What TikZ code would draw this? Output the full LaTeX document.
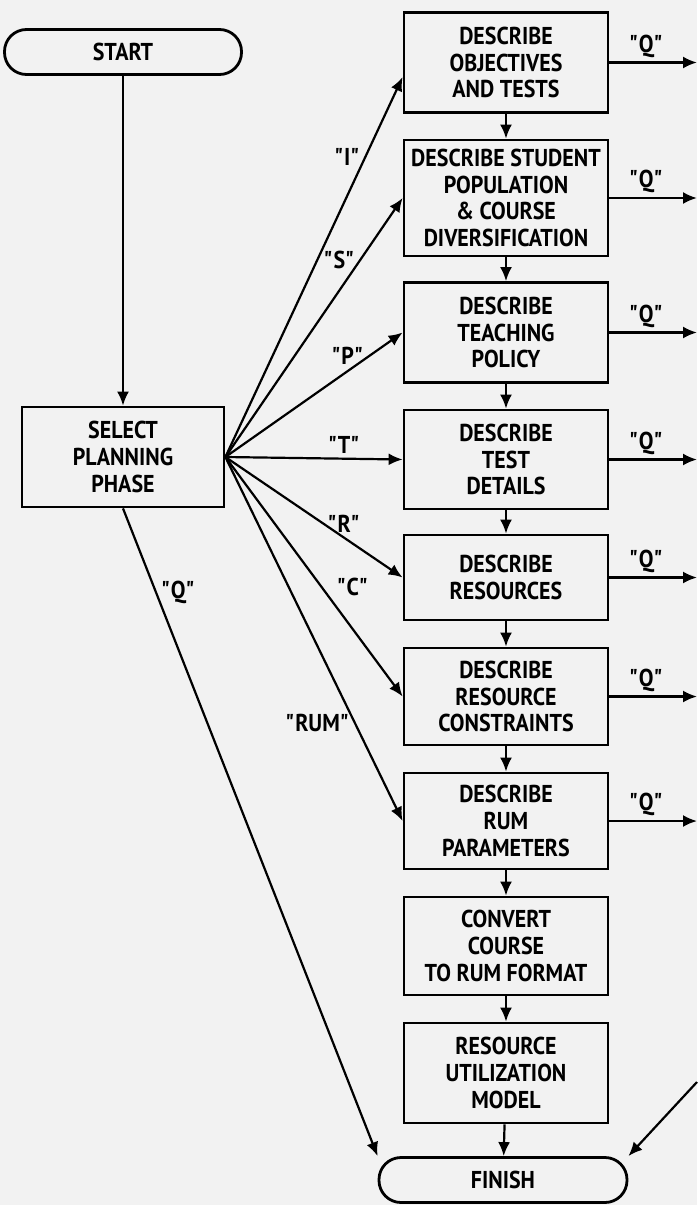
\documentclass[tikz,border=0pt]{standalone}
\usepackage{fontspec}
\setmainfont{PT Sans}[FakeStretch=0.9]
\usetikzlibrary{arrows.meta}
\newcommand\qt[1]{\textquotedbl#1\textquotedbl}

\begin{document}
\begin{tikzpicture}[x=0.5pt,y=-0.5pt,
    every node/.style={font=\fontsize{12.2}{13.3}\selectfont\bfseries},
    blk/.style={draw,line width=1.4pt,minimum width=102pt,minimum height=50pt,
      align=center,inner sep=1pt},
    term/.style={draw,line width=1.4pt,rounded corners=11pt,minimum height=22.5pt},
    flow/.style={line width=1.1pt,-{Latex[length=7pt,width=6pt]}},
    lbl/.style={inner sep=2pt}]
  \fill[black!5] (0,0) rectangle (697,1205);
  \useasboundingbox (0,0) rectangle (697,1205);

  \node[term,minimum width=118.5pt] (start) at (123,52) {START};
  \node[blk,minimum width=101pt] (select) at (123,457) {SELECT\\PLANNING\\PHASE};
  \node[term,minimum width=124pt] (finish) at (503,1180) {FINISH};

  \node[blk] (o1) at (506,62.5) {DESCRIBE\\OBJECTIVES\\AND TESTS};
  \node[blk,minimum height=58pt] (o2) at (506,198)
    {DESCRIBE STUDENT\\POPULATION\\\& COURSE\\DIVERSIFICATION};
  \node[blk] (o3) at (506,332.5) {DESCRIBE\\TEACHING\\POLICY};
  \node[blk,minimum height=49.5pt] (o4) at (506,459.5) {DESCRIBE\\TEST\\DETAILS};
  \node[blk,minimum height=42.5pt] (o5) at (506,577.5) {DESCRIBE\\RESOURCES};
  \node[blk,minimum height=48.5pt] (o6) at (506,696.5) {DESCRIBE\\RESOURCE\\CONSTRAINTS};
  \node[blk,minimum height=48pt] (o7) at (506,821) {DESCRIBE\\RUM\\PARAMETERS};
  \node[blk,minimum height=49pt] (o8) at (506,946) {CONVERT\\COURSE\\TO RUM FORMAT};
  \node[blk] (o9) at (506,1073) {RESOURCE\\UTILIZATION\\MODEL};

  \coordinate (edge) at (697,0); \coordinate (back) at (697,1082);

  \draw[flow] (start) -- (select);
  \foreach \i/\j in {1/2,2/3,3/4,4/5,5/6,6/7,7/8,8/9} \draw[flow] (o\i) -- (o\j);
  \draw[flow] (o9) -- (finish);
  \foreach \i in {1,...,7} {
    \coordinate (q\i) at (o\i.east -| edge);
    \draw[flow] (o\i.east) -- (q\i) node[lbl,pos=0.42,above] {\qt{Q}};
  }
  \draw[flow] (back) -- (finish.north east);

  \draw[flow] (select.east) -- (o1.188) node[lbl,pos=0.79,left] {\qt{I}};
  \draw[flow] (select.east) -- (o2.west) node[lbl,pos=0.76,left] {\qt{S}};
  \draw[flow] (select.east) -- (o3.west) node[lbl,pos=0.81,left] {\qt{P}};
  \draw[flow] (select.east) -- (o4.west) node[lbl,pos=0.67,above] {\qt{T}};
  \draw[flow] (select.east) -- (o5.west) node[lbl,pos=0.67,above] {\qt{R}};
  \draw[flow] (select.east) -- (o6.west) node[lbl,pos=0.6,above right] {\qt{C}};
  \draw[flow] (select.east) -- (o7.west) node[lbl,pos=0.73,left] {\qt{RUM}};
  \draw[flow] (select.south) -- (finish.north west) node[lbl,pos=0.13,right] {\qt{Q}};
\end{tikzpicture}
\end{document}
